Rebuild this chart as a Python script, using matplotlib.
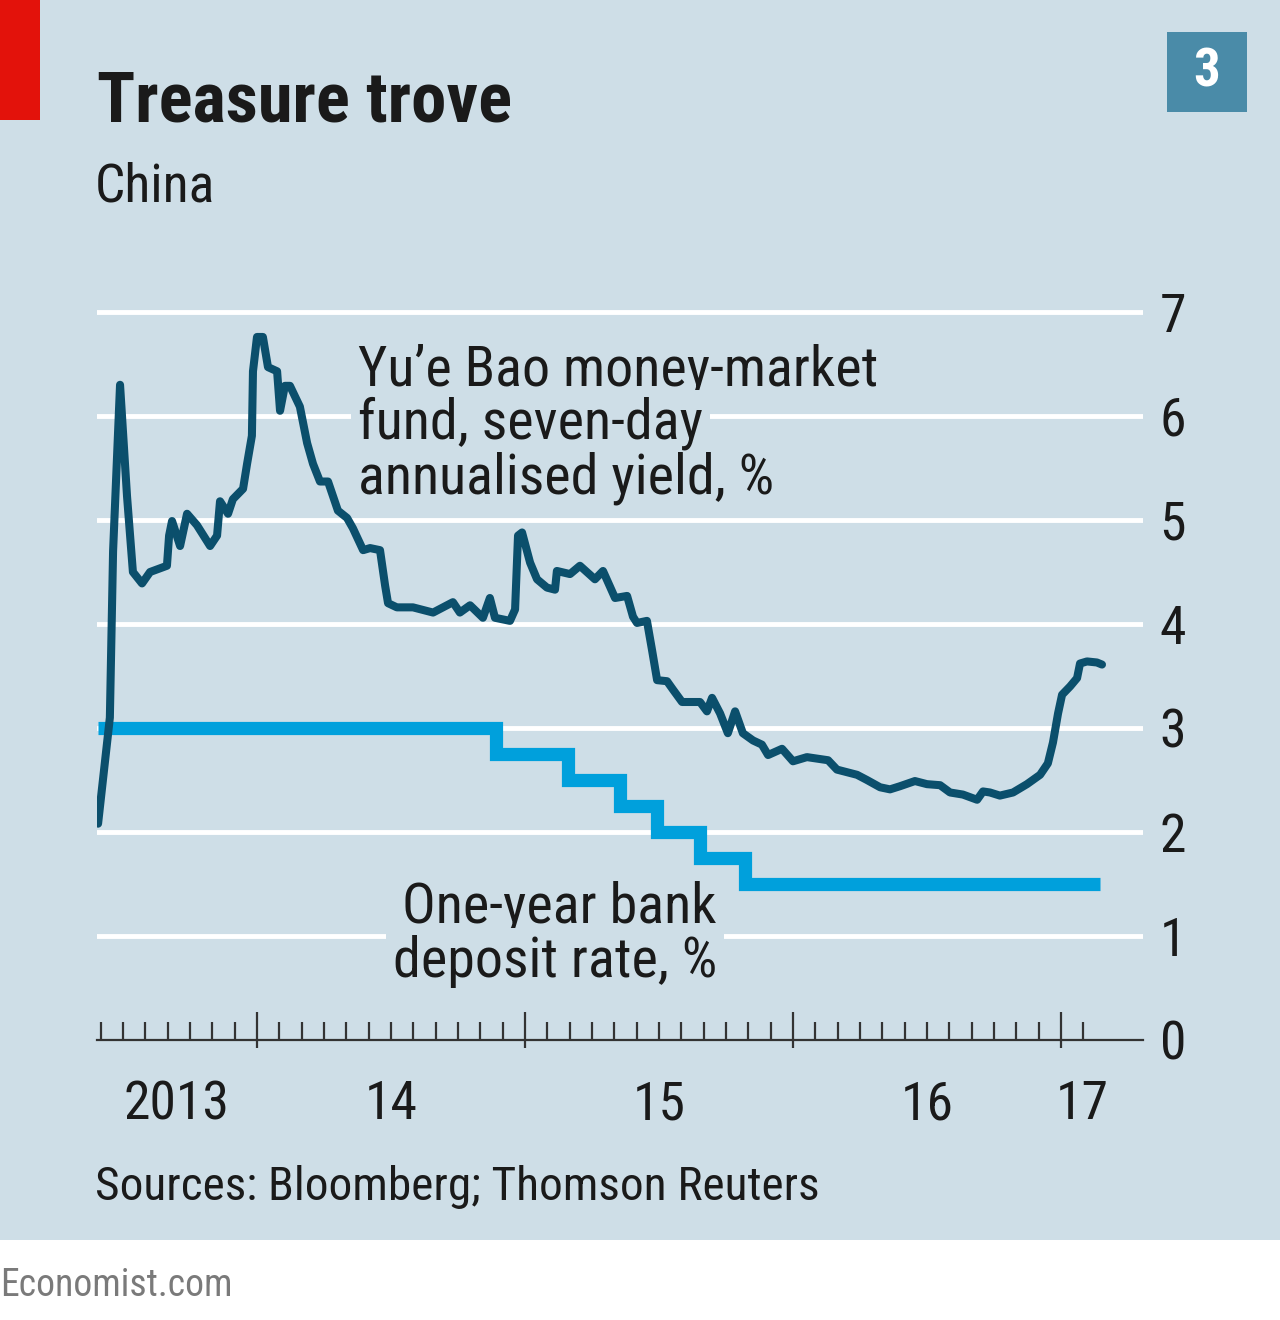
import numpy as np
import matplotlib
matplotlib.use("Agg")
import matplotlib.pyplot as plt
from matplotlib import font_manager
from matplotlib.patches import Rectangle
from matplotlib.transforms import blended_transform_factory

# narrow face if we have one, otherwise Roboto
names = {f.name for f in font_manager.fontManager.ttflist}
family = "Roboto"
for cand in ["Liberation Sans Narrow", "Roboto Condensed", "Open Sans Condensed"]:
    if cand in names:
        family = cand
        break
plt.rcParams['font.family'] = [family, 'DejaVu Sans']

# Yu'e Bao seven-day annualised yield, % (x in decimal years)
yuebao_x = [2013.407, 2013.451, 2013.463, 2013.489, 2013.515, 2013.537, 2013.571, 2013.601,
            2013.664, 2013.672, 2013.683, 2013.713, 2013.739, 2013.776, 2013.825, 2013.851,
            2013.862, 2013.892, 2013.910, 2013.948, 2013.963, 2013.981, 2013.985, 2014.000,
            2014.022, 2014.041, 2014.075, 2014.086, 2014.104, 2014.123, 2014.160, 2014.187,
            2014.209, 2014.235, 2014.265, 2014.302, 2014.336, 2014.358, 2014.396, 2014.422,
            2014.459, 2014.478, 2014.489, 2014.522, 2014.582, 2014.657, 2014.731, 2014.757,
            2014.795, 2014.843, 2014.869, 2014.888, 2014.944, 2014.963, 2014.974, 2014.989,
            2015.019, 2015.045, 2015.082, 2015.112, 2015.119, 2015.168, 2015.205, 2015.261,
            2015.291, 2015.317, 2015.336, 2015.381, 2015.403, 2015.418, 2015.455, 2015.474,
            2015.493, 2015.530, 2015.552, 2015.586, 2015.653, 2015.679, 2015.698, 2015.728,
            2015.757, 2015.784, 2015.813, 2015.851, 2015.884, 2015.907, 2015.959, 2016.000,
            2016.052, 2016.131, 2016.164, 2016.239, 2016.276, 2016.325, 2016.362, 2016.399,
            2016.455, 2016.500, 2016.549, 2016.586, 2016.634, 2016.687, 2016.709, 2016.735,
            2016.772, 2016.821, 2016.873, 2016.922, 2016.951, 2016.970, 2016.989, 2017.004,
            2017.034, 2017.060, 2017.071, 2017.097, 2017.134, 2017.153]
yuebao_y = [2.08, 3.10, 4.70, 6.30, 5.23, 4.50, 4.39, 4.50,
            4.56, 4.85, 4.99, 4.75, 5.06, 4.95, 4.75, 4.85,
            5.18, 5.06, 5.20, 5.30, 5.54, 5.81, 6.43, 6.76,
            6.76, 6.47, 6.43, 6.05, 6.29, 6.29, 6.09, 5.74,
            5.54, 5.37, 5.37, 5.09, 5.02, 4.92, 4.71, 4.73,
            4.71, 4.37, 4.20, 4.16, 4.16, 4.11, 4.21, 4.11,
            4.18, 4.06, 4.25, 4.06, 4.03, 4.14, 4.85, 4.88,
            4.59, 4.43, 4.35, 4.33, 4.51, 4.48, 4.56, 4.43,
            4.51, 4.36, 4.25, 4.27, 4.07, 4.01, 4.03, 3.75,
            3.46, 3.45, 3.37, 3.25, 3.25, 3.16, 3.29, 3.14,
            2.95, 3.16, 2.95, 2.88, 2.84, 2.74, 2.80, 2.68,
            2.72, 2.69, 2.60, 2.55, 2.50, 2.43, 2.41, 2.44,
            2.49, 2.46, 2.45, 2.38, 2.36, 2.31, 2.39, 2.38,
            2.35, 2.38, 2.46, 2.55, 2.66, 2.86, 3.14, 3.32,
            3.40, 3.48, 3.62, 3.64, 3.63, 3.61]

# One-year bank deposit rate, % (step changes)
deposit_x = [2013.405, 2014.89, 2015.16, 2015.355, 2015.493, 2015.653, 2015.82, 2017.146]
deposit_y = [3.0, 2.75, 2.5, 2.25, 2.0, 1.75, 1.5, 1.5]

y_ticks = [0, 1, 2, 3, 4, 5, 6, 7]
year_starts = [2014, 2015, 2016, 2017]
year_labels = ["2013", "14", "15", "16", "17"]
year_label_x = [2013.70, 2014.5, 2015.5, 2016.5, 2017.08]

bg = "#cedee7"
dark = "#0b4f6c"
light = "#00a0dc"
txt = "#1a1a1a"

W, H = 1280, 1320
fig = plt.figure(figsize=(W / 100, H / 100), dpi=100)
fig.patch.set_facecolor("white")
renderer = fig.canvas.get_renderer()


def fit(t, width_px):
    # scale the font so the text is as wide as in the original
    w = t.get_window_extent(renderer).width
    t.set_fontsize(t.get_fontsize() * width_px / w)
    return t.get_fontsize()


fig.patches.append(Rectangle((0, 80 / H), 1, 1 - 80 / H, transform=fig.transFigure,
                             facecolor=bg, edgecolor="none", zorder=-10))
fig.patches.append(Rectangle((0, 1 - 120 / H), 40 / W, 120 / H, transform=fig.transFigure,
                             facecolor="#e3120b", edgecolor="none", zorder=-5))
fig.patches.append(Rectangle((1167 / W, 1 - 112 / H), 80 / W, 80 / H, transform=fig.transFigure,
                             facecolor="#4a8ba8", edgecolor="none", zorder=-5))
fig.text(1207 / W, 1 - 72 / H, "3", color="white", fontsize=38, fontweight="bold",
         ha="center", va="center")

t = fig.text(97 / W, 1 - 122 / H, "Treasure trove", fontsize=50, fontweight="bold",
             color=txt, ha="left", va="baseline")
fit(t, 415)
t = fig.text(95 / W, 1 - 202 / H, "China", fontsize=40, color=txt, ha="left", va="baseline")
fit(t, 120)
t = fig.text(95 / W, 1 - 1200 / H, "Sources: Bloomberg; Thomson Reuters", fontsize=33,
             color=txt, ha="left", va="baseline")
fit(t, 725)
t = fig.text(0, 1 - 1296 / H, "Economist.com", fontsize=27, color="#7a7a7a",
             ha="left", va="baseline")
fit(t, 233)

ax = fig.add_axes([97 / W, 280 / H, 1046 / W, 7.5 * 104 / H])
ax.set_facecolor("none")
ax.set_xlim(2013.403, 2017.306)
ax.set_ylim(0, 7.5)

for s in ["top", "left", "right"]:
    ax.spines[s].set_visible(False)
ax.spines["bottom"].set_color("#333333")
ax.spines["bottom"].set_linewidth(1.6)

# year labels sized from "2013"
trans = blended_transform_factory(ax.transData, ax.transAxes)
year_texts = [ax.text(xl, -0.083, lab, transform=trans, ha="center", va="center",
                      fontsize=35, color=txt, clip_on=False)
              for xl, lab in zip(year_label_x, year_labels)]
num_size = fit(year_texts[0], 106)
for yt in year_texts[1:]:
    yt.set_fontsize(num_size)

ax.set_yticks(y_ticks)
ax.set_yticklabels([str(v) for v in y_ticks])
ax.yaxis.tick_right()
ax.tick_params(axis="y", length=0, pad=12, labelsize=num_size, labelcolor=txt)
ax.grid(axis="y", color="white", linewidth=3.5)
ax.yaxis.get_gridlines()[0].set_visible(False)
ax.set_axisbelow(True)

months = [y + m / 12 for y in range(2013, 2018) for m in range(12)]
minor = [m for m in months if 2013.40 < m < 2017.1 and round(m * 12) % 12 != 0]
ax.set_xticks(year_starts)
ax.set_xticklabels([])
ax.set_xticks(minor, minor=True)
ax.tick_params(axis="x", which="major", direction="in", length=20, width=1.6, color="#333333")
ax.tick_params(axis="x", which="minor", direction="in", length=13, width=1.6, color="#333333")

# short stubs of the year ticks below the axis line
sec = ax.secondary_xaxis("bottom")
sec.spines["bottom"].set_visible(False)
sec.set_xticks(year_starts)
sec.set_xticklabels([])
sec.tick_params(axis="x", which="both", direction="out", length=6, width=1.6, color="#333333")
sec.xaxis.set_minor_locator(matplotlib.ticker.NullLocator())

ax.step(deposit_x, deposit_y, where="post", color=light, linewidth=9.5,
        solid_joinstyle="miter", solid_capstyle="butt", zorder=3)
ax.plot(yuebao_x, yuebao_y, color=dark, linewidth=5.8,
        solid_joinstyle="round", solid_capstyle="round", zorder=4)

# labels; the background boxes break the white gridlines like the original
mask = dict(facecolor=bg, edgecolor="none", pad=5)
l1 = ax.text(358 / W, 1 - 385 / H, "Yu’e Bao money-market", transform=fig.transFigure,
             fontsize=41, color=txt, ha="left", va="baseline", zorder=2.5)
lab_size = fit(l1, 520)
ax.text(358 / W, 1 - 439 / H, "fund, seven-day", transform=fig.transFigure,
        fontsize=lab_size, color=txt, ha="left", va="baseline", bbox=mask, zorder=2.5)
ax.text(358 / W, 1 - 493 / H, "annualised yield, %", transform=fig.transFigure,
        fontsize=lab_size, color=txt, ha="left", va="baseline", zorder=2.5)
d1 = ax.text(717 / W, 1 - 922 / H, "One-year bank", transform=fig.transFigure,
             fontsize=lab_size, color=txt, ha="right", va="baseline", bbox=mask, zorder=2.5)
d2 = ax.text(717 / W, 1 - 977 / H, "deposit rate, %", transform=fig.transFigure,
             fontsize=lab_size, color=txt, ha="right", va="baseline", bbox=mask, zorder=2.5)

fig.savefig("out.png", dpi=100)
